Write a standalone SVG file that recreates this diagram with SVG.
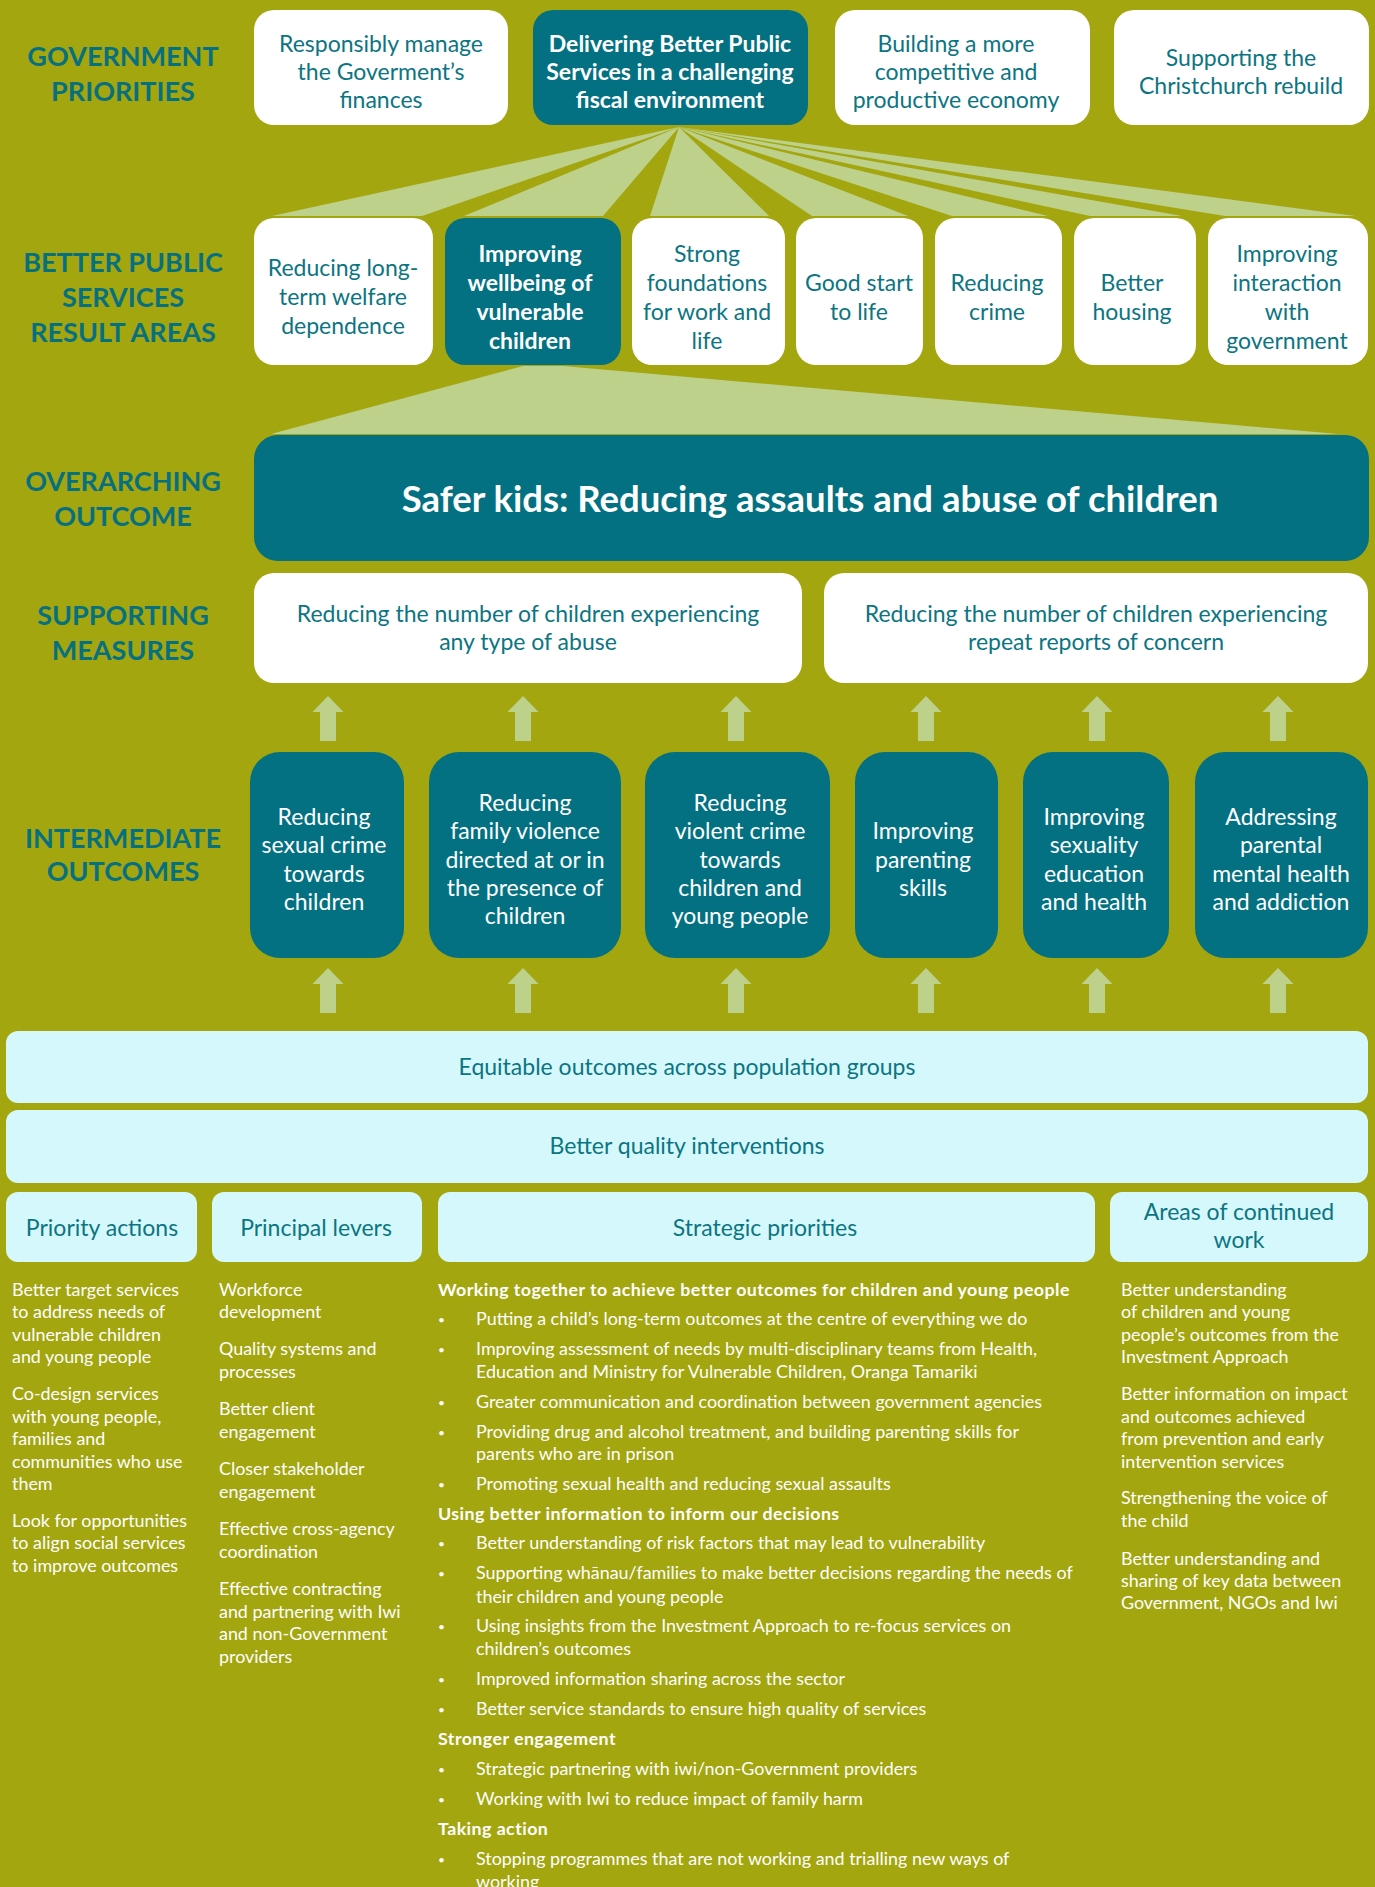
<svg xmlns="http://www.w3.org/2000/svg" width="1375" height="1887" viewBox="0 0 1375 1887">
<style>
text{font-family:Lato,"Open Sans","Liberation Sans",sans-serif}
.lbl{font-size:27px;font-weight:700;fill:#07707f;text-anchor:middle}
.wb{fill:#ffffff}
.tb{fill:#037181}
.cy{fill:#d5f8fc}
.wg{fill:#bdd18a}
.tt{font-size:23px;fill:#0b7582;text-anchor:middle}
.tw{font-size:23px;fill:#ffffff;text-anchor:middle}
.twb{font-size:23px;fill:#ffffff;text-anchor:middle;font-weight:700}
.hd{font-size:23px;fill:#0b7582;text-anchor:middle}
.bd{font-size:17.9px;fill:#ffffff}
.bdb{font-size:17.8px;fill:#ffffff;font-weight:700;letter-spacing:0.45px}
.bu{font-size:12px;fill:#ffffff}
</style>
<defs>
<path id="arr" d="M0 0 L15.5 16 L8 16 L8 45 L-8 45 L-8 16 L-15.5 16 Z" fill="#bdd18a"/>
</defs>
<rect x="0" y="0" width="1375" height="1887" fill="#a3a60f"/>

<g id="connectors">
<polygon class="wg" points="679,127 272,216 422,216"/>
<polygon class="wg" points="679,127 464,216 603,216"/>
<polygon class="wg" points="679,127 650,216 769,216"/>
<polygon class="wg" points="679,127 812,216 908,216"/>
<polygon class="wg" points="679,127 952,216 1048,216"/>
<polygon class="wg" points="679,127 1090,216 1182,216"/>
<polygon class="wg" points="679,127 1225,216 1355,216"/>
<polygon class="wg" points="523,366 563,366 1338,434 271,434"/>
<use href="#arr" x="328" y="696"/>
<use href="#arr" x="523" y="696"/>
<use href="#arr" x="736" y="696"/>
<use href="#arr" x="926" y="696"/>
<use href="#arr" x="1097" y="696"/>
<use href="#arr" x="1278" y="696"/>
<use href="#arr" x="328" y="968"/>
<use href="#arr" x="523" y="968"/>
<use href="#arr" x="736" y="968"/>
<use href="#arr" x="926" y="968"/>
<use href="#arr" x="1097" y="968"/>
<use href="#arr" x="1278" y="968"/>
</g>

<g id="labels">
<text class="lbl" x="123" y="66">GOVERNMENT</text>
<text class="lbl" x="123" y="101">PRIORITIES</text>
<text class="lbl" x="123" y="272">BETTER PUBLIC</text>
<text class="lbl" x="123" y="307">SERVICES</text>
<text class="lbl" x="123" y="342">RESULT AREAS</text>
<text class="lbl" x="123" y="491">OVERARCHING</text>
<text class="lbl" x="123" y="526">OUTCOME</text>
<text class="lbl" x="123" y="625">SUPPORTING</text>
<text class="lbl" x="123" y="660">MEASURES</text>
<text class="lbl" x="123" y="848">INTERMEDIATE</text>
<text class="lbl" x="123" y="881">OUTCOMES</text>
</g>

<g id="gp1"><rect class="wb" x="254" y="10" width="254" height="115" rx="20"/>
<text class="tt" x="381"><tspan x="381" y="52">Responsibly manage</tspan><tspan x="381" y="80">the Goverment’s</tspan><tspan x="381" y="108">finances</tspan></text></g>
<g id="gp2"><rect class="tb" x="533" y="10" width="275" height="115" rx="20"/>
<text class="twb" x="670"><tspan x="670" y="52">Delivering Better Public</tspan><tspan x="670" y="80">Services in a challenging</tspan><tspan x="670" y="108">fiscal environment</tspan></text></g>
<g id="gp3"><rect class="wb" x="835" y="10" width="255" height="115" rx="20"/>
<text class="tt" x="956"><tspan x="956" y="52">Building a more</tspan><tspan x="956" y="80">competitive and</tspan><tspan x="956" y="108">productive economy</tspan></text></g>
<g id="gp4"><rect class="wb" x="1114" y="10" width="255" height="115" rx="20"/>
<text class="tt" x="1241"><tspan x="1241" y="66">Supporting the</tspan><tspan x="1241" y="94">Christchurch rebuild</tspan></text></g>

<g id="ra1"><rect class="wb" x="254" y="218" width="179" height="147" rx="20"/>
<text class="tt"><tspan x="343" y="276">Reducing long-</tspan><tspan x="343" y="305">term welfare</tspan><tspan x="343" y="334">dependence</tspan></text></g>
<g id="ra2"><rect class="tb" x="445" y="218" width="176" height="147" rx="20"/>
<text class="twb"><tspan x="530" y="262">Improving</tspan><tspan x="530" y="291">wellbeing of</tspan><tspan x="530" y="320">vulnerable</tspan><tspan x="530" y="349">children</tspan></text></g>
<g id="ra3"><rect class="wb" x="632" y="218" width="153" height="147" rx="20"/>
<text class="tt"><tspan x="707" y="262">Strong</tspan><tspan x="707" y="291">foundations</tspan><tspan x="707" y="320">for work and</tspan><tspan x="707" y="349">life</tspan></text></g>
<g id="ra4"><rect class="wb" x="796" y="218" width="127" height="147" rx="20"/>
<text class="tt"><tspan x="859" y="291">Good start</tspan><tspan x="859" y="320">to life</tspan></text></g>
<g id="ra5"><rect class="wb" x="935" y="218" width="127" height="147" rx="20"/>
<text class="tt"><tspan x="997" y="291">Reducing</tspan><tspan x="997" y="320">crime</tspan></text></g>
<g id="ra6"><rect class="wb" x="1074" y="218" width="122" height="147" rx="20"/>
<text class="tt"><tspan x="1132" y="291">Better</tspan><tspan x="1132" y="320">housing</tspan></text></g>
<g id="ra7"><rect class="wb" x="1208" y="218" width="160" height="147" rx="20"/>
<text class="tt"><tspan x="1287" y="262">Improving</tspan><tspan x="1287" y="291">interaction</tspan><tspan x="1287" y="320">with</tspan><tspan x="1287" y="349">government</tspan></text></g>

<g id="outcome"><rect class="tb" x="254" y="435" width="1115" height="126" rx="24"/>
<text x="810" y="512" style="font-size:36.5px;font-weight:700;fill:#ffffff;text-anchor:middle">Safer kids: Reducing assaults and abuse of children</text></g>

<g id="sm1"><rect class="wb" x="254" y="573" width="548" height="110" rx="20"/>
<text class="tt"><tspan x="528" y="622">Reducing the number of children experiencing</tspan><tspan x="528" y="650">any type of abuse</tspan></text></g>
<g id="sm2"><rect class="wb" x="824" y="573" width="544" height="110" rx="20"/>
<text class="tt"><tspan x="1096" y="622">Reducing the number of children experiencing</tspan><tspan x="1096" y="650">repeat reports of concern</tspan></text></g>

<g id="io1"><rect class="tb" x="250" y="752" width="154" height="206" rx="30"/>
<text class="tw"><tspan x="324" y="825">Reducing</tspan><tspan x="324" y="853">sexual crime</tspan><tspan x="324" y="882">towards</tspan><tspan x="324" y="910">children</tspan></text></g>
<g id="io2"><rect class="tb" x="429" y="752" width="192" height="206" rx="30"/>
<text class="tw"><tspan x="525" y="811">Reducing</tspan><tspan x="525" y="839">family violence</tspan><tspan x="525" y="868">directed at or in</tspan><tspan x="525" y="896">the presence of</tspan><tspan x="525" y="924">children</tspan></text></g>
<g id="io3"><rect class="tb" x="645" y="752" width="185" height="206" rx="30"/>
<text class="tw"><tspan x="740" y="811">Reducing</tspan><tspan x="740" y="839">violent crime</tspan><tspan x="740" y="868">towards</tspan><tspan x="740" y="896">children and</tspan><tspan x="740" y="924">young people</tspan></text></g>
<g id="io4"><rect class="tb" x="855" y="752" width="143" height="206" rx="30"/>
<text class="tw"><tspan x="923" y="839">Improving</tspan><tspan x="923" y="868">parenting</tspan><tspan x="923" y="896">skills</tspan></text></g>
<g id="io5"><rect class="tb" x="1023" y="752" width="146" height="206" rx="30"/>
<text class="tw"><tspan x="1094" y="825">Improving</tspan><tspan x="1094" y="853">sexuality</tspan><tspan x="1094" y="882">education</tspan><tspan x="1094" y="910">and health</tspan></text></g>
<g id="io6"><rect class="tb" x="1195" y="752" width="173" height="206" rx="30"/>
<text class="tw"><tspan x="1281" y="825">Addressing</tspan><tspan x="1281" y="853">parental</tspan><tspan x="1281" y="882">mental health</tspan><tspan x="1281" y="910">and addiction</tspan></text></g>

<g id="bar1"><rect class="cy" x="6" y="1031" width="1362" height="72" rx="12"/>
<text class="hd" x="687" y="1075">Equitable outcomes across population groups</text></g>
<g id="bar2"><rect class="cy" x="6" y="1110" width="1362" height="73" rx="12"/>
<text class="hd" x="687" y="1154">Better quality interventions</text></g>

<g id="h1"><rect class="cy" x="6" y="1192" width="191" height="70" rx="12"/>
<text class="hd" x="102" y="1236">Priority actions</text></g>
<g id="h2"><rect class="cy" x="212" y="1192" width="210" height="70" rx="12"/>
<text class="hd" x="316" y="1236">Principal levers</text></g>
<g id="h3"><rect class="cy" x="438" y="1192" width="657" height="70" rx="12"/>
<text class="hd" x="765" y="1236">Strategic priorities</text></g>
<g id="h4"><rect class="cy" x="1110" y="1192" width="258" height="70" rx="12"/>
<text class="hd"><tspan x="1239" y="1220">Areas of continued</tspan><tspan x="1239" y="1248">work</tspan></text></g>

<g id="col1">
<text class="bd"><tspan x="12" y="1296">Better target services</tspan><tspan x="12" y="1318">to address needs of</tspan><tspan x="12" y="1341">vulnerable children</tspan><tspan x="12" y="1363">and young people</tspan></text>
<text class="bd"><tspan x="12" y="1400">Co-design services</tspan><tspan x="12" y="1423">with young people,</tspan><tspan x="12" y="1445">families and</tspan><tspan x="12" y="1468">communities who use</tspan><tspan x="12" y="1490">them</tspan></text>
<text class="bd"><tspan x="12" y="1527">Look for opportunities</tspan><tspan x="12" y="1549">to align social services</tspan><tspan x="12" y="1572">to improve outcomes</tspan></text>
</g>

<g id="col2">
<text class="bd"><tspan x="219" y="1296">Workforce</tspan><tspan x="219" y="1318">development</tspan></text>
<text class="bd"><tspan x="219" y="1355">Quality systems and</tspan><tspan x="219" y="1378">processes</tspan></text>
<text class="bd"><tspan x="219" y="1415">Better client</tspan><tspan x="219" y="1438">engagement</tspan></text>
<text class="bd"><tspan x="219" y="1475">Closer stakeholder</tspan><tspan x="219" y="1498">engagement</tspan></text>
<text class="bd"><tspan x="219" y="1535">Effective cross-agency</tspan><tspan x="219" y="1558">coordination</tspan></text>
<text class="bd"><tspan x="219" y="1595">Effective contracting</tspan><tspan x="219" y="1618">and partnering with Iwi</tspan><tspan x="219" y="1640">and non-Government</tspan><tspan x="219" y="1663">providers</tspan></text>
</g>

<g id="col3">
<text class="bdb" x="438" y="1296">Working together to achieve better outcomes for children and young people</text>
<text class="bu" x="438" y="1324">•</text><text class="bd" x="476" y="1325">Putting a child’s long-term outcomes at the centre of everything we do</text>
<text class="bu" x="438" y="1354">•</text><text class="bd"><tspan x="476" y="1355">Improving assessment of needs by multi-disciplinary teams from Health,</tspan><tspan x="476" y="1378">Education and Ministry for Vulnerable Children, Oranga Tamariki</tspan></text>
<text class="bu" x="438" y="1407">•</text><text class="bd" x="476" y="1408">Greater communication and coordination between government agencies</text>
<text class="bu" x="438" y="1437">•</text><text class="bd"><tspan x="476" y="1438">Providing drug and alcohol treatment, and building parenting skills for</tspan><tspan x="476" y="1460">parents who are in prison</tspan></text>
<text class="bu" x="438" y="1489">•</text><text class="bd" x="476" y="1490">Promoting sexual health and reducing sexual assaults</text>
<text class="bdb" x="438" y="1520">Using better information to inform our decisions</text>
<text class="bu" x="438" y="1548">•</text><text class="bd" x="476" y="1549">Better understanding of risk factors that may lead to vulnerability</text>
<text class="bu" x="438" y="1578">•</text><text class="bd"><tspan x="476" y="1579">Supporting whānau/families to make better decisions regarding the needs of</tspan><tspan x="476" y="1603">their children and young people</tspan></text>
<text class="bu" x="438" y="1631">•</text><text class="bd"><tspan x="476" y="1632">Using insights from the Investment Approach to re-focus services on</tspan><tspan x="476" y="1655">children’s outcomes</tspan></text>
<text class="bu" x="438" y="1684">•</text><text class="bd" x="476" y="1685">Improved information sharing across the sector</text>
<text class="bu" x="438" y="1714">•</text><text class="bd" x="476" y="1715">Better service standards to ensure high quality of services</text>
<text class="bdb" x="438" y="1745">Stronger engagement</text>
<text class="bu" x="438" y="1774">•</text><text class="bd" x="476" y="1775">Strategic partnering with iwi/non-Government providers</text>
<text class="bu" x="438" y="1804">•</text><text class="bd" x="476" y="1805">Working with Iwi to reduce impact of family harm</text>
<text class="bdb" x="438" y="1835">Taking action</text>
<text class="bu" x="438" y="1864">•</text><text class="bd"><tspan x="476" y="1865">Stopping programmes that are not working and trialling new ways of</tspan><tspan x="476" y="1888">working</tspan></text>
</g>

<g id="col4">
<text class="bd"><tspan x="1121" y="1296">Better understanding</tspan><tspan x="1121" y="1318">of children and young</tspan><tspan x="1121" y="1341">people’s outcomes from the</tspan><tspan x="1121" y="1363">Investment Approach</tspan></text>
<text class="bd"><tspan x="1121" y="1400">Better information on impact</tspan><tspan x="1121" y="1423">and outcomes achieved</tspan><tspan x="1121" y="1445">from prevention and early</tspan><tspan x="1121" y="1468">intervention services</tspan></text>
<text class="bd"><tspan x="1121" y="1504">Strengthening the voice of</tspan><tspan x="1121" y="1527">the child</tspan></text>
<text class="bd"><tspan x="1121" y="1565">Better understanding and</tspan><tspan x="1121" y="1587">sharing of key data between</tspan><tspan x="1121" y="1609">Government, NGOs and Iwi</tspan></text>
</g>
</svg>
